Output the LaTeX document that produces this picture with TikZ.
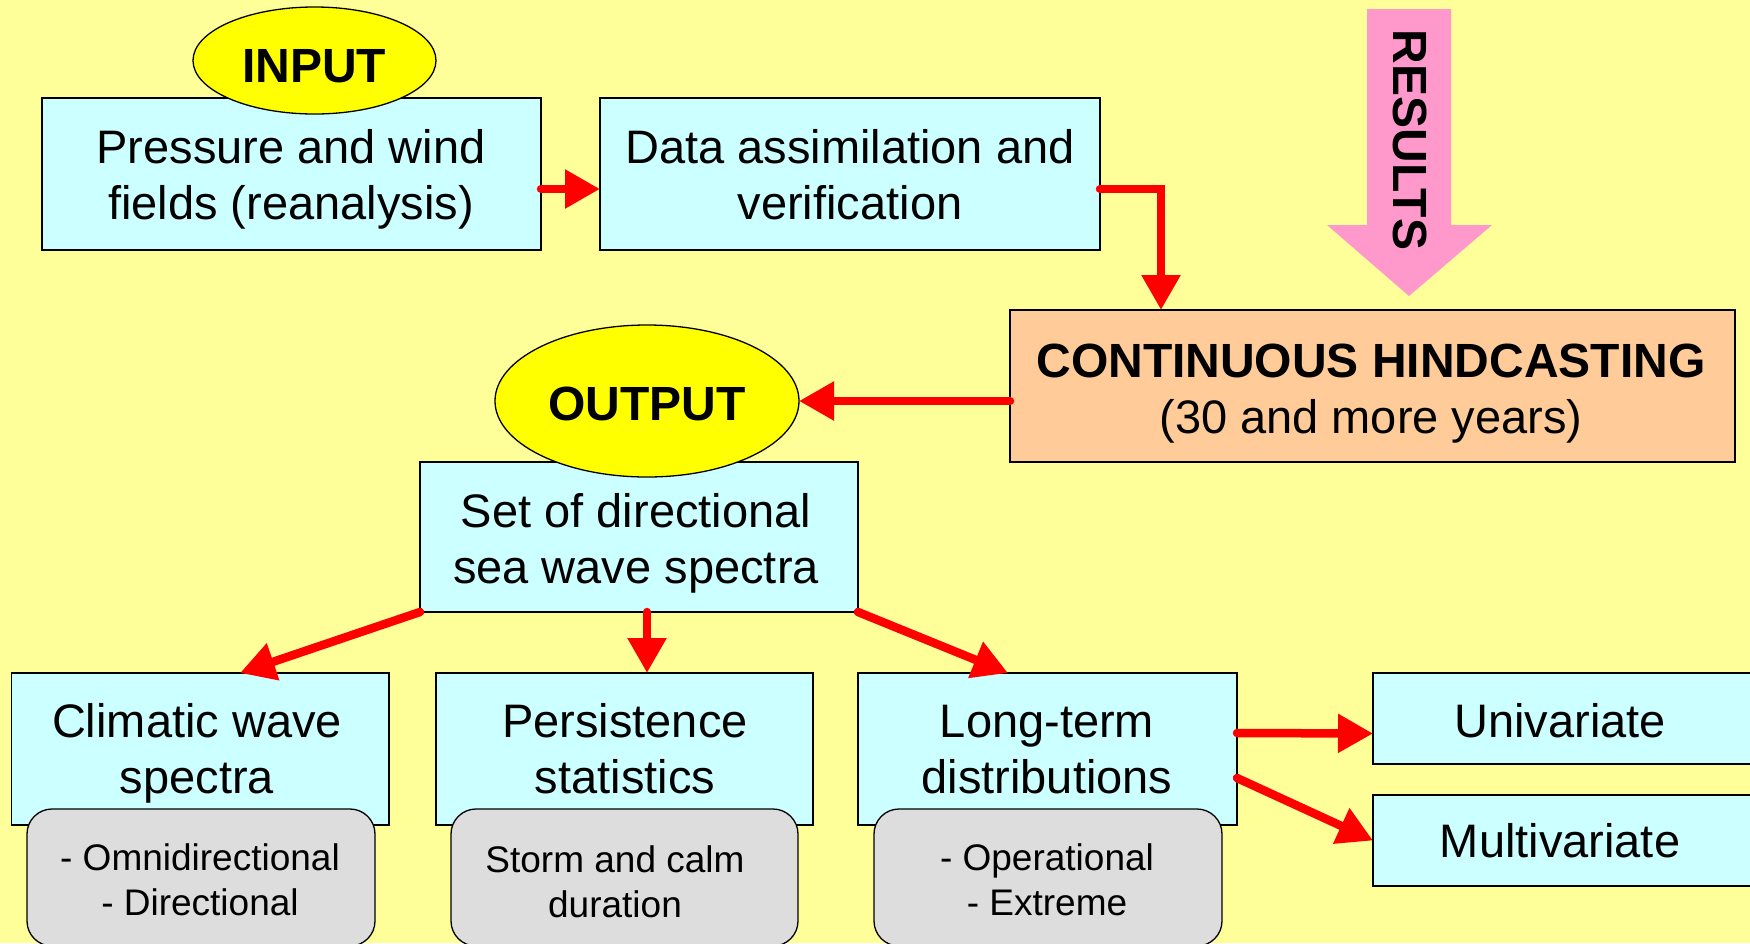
\documentclass[tikz,border=0pt]{standalone}
\usepackage{fontspec}
\setmainfont{Liberation Sans}
\usetikzlibrary{shapes.geometric,arrows.meta}
\definecolor{bgyellow}{HTML}{FFFF99}
\definecolor{boxcyan}{HTML}{CCFFFF}
\definecolor{boxorange}{HTML}{FFCC99}
\definecolor{ellyellow}{HTML}{FFFF00}
\definecolor{resultpink}{HTML}{FF99CC}
\definecolor{boxgrey}{HTML}{DDDDDD}
\newcommand{\twolines}[2]{\begin{tabular}[t]{@{}c@{}}#1\\#2\end{tabular}}
\newcommand{\bigbf}{\fontsize{48}{56.5}\selectfont\bfseries}
\begin{document}
\begin{tikzpicture}[x=1pt,y=-1pt,
  box/.style={draw=black, line width=1.3pt, rectangle, inner sep=0pt, outer sep=0pt},
  cyanbox/.style={box, fill=boxcyan},
  orangebox/.style={box, fill=boxorange},
  greybox/.style={box, fill=boxgrey, rounded corners=25pt},
  ell/.style={draw=black, line width=1.3pt, ellipse, fill=ellyellow, inner sep=0pt, outer sep=0pt},
  bigtxt/.style={font=\fontsize{47}{56.5}\selectfont, inner sep=0pt, anchor=base},
  boldtxt/.style={font=\bigbf, inner sep=0pt, anchor=base},
  smalltxt/.style={font=\fontsize{37}{45.5}\selectfont, inner sep=0pt, anchor=base},
  redarrow/.style={draw=red, line width=8.5pt, line cap=round, -{Triangle[length=35pt,width=37pt]}},
]
\useasboundingbox (0,0) rectangle (1750,943);
\fill[bgyellow] (0,0) rectangle (1750,943);
\clip (0,0) rectangle (1750,943);

% top row
\node[cyanbox, minimum width=499pt, minimum height=152pt] (b1) at (291.5,174) {};
\node[cyanbox, minimum width=500pt, minimum height=152pt] (b2) at (850,174) {};
\node[ell, minimum width=243pt, minimum height=107pt] (in) at (314.5,60.5) {};

% results arrow
\fill[resultpink] (1367,9) -- (1451,9) -- (1451,225) -- (1492,225) -- (1409,296) -- (1327,225) -- (1367,225) -- cycle;
\node[font=\bigbf, inner sep=0pt, rotate=-90] (res) at (1410,140) {RESULTS};

% hindcasting
\node[orangebox, minimum width=725pt, minimum height=152pt] (b3) at (1372.5,386) {};

% output
\node[cyanbox, minimum width=438pt, minimum height=150pt] (b4) at (639,537) {};
\node[ell, minimum width=304pt, minimum height=152pt] (out) at (647,401) {};

% bottom row
\node[cyanbox, minimum width=377.5pt, minimum height=152pt] (clim) at (200.25,749) {};
\node[cyanbox, minimum width=377pt, minimum height=152pt] (pers) at (624.5,749) {};
\node[cyanbox, minimum width=379pt, minimum height=152pt] (long) at (1047.5,749) {};
\node[greybox, minimum width=348pt, minimum height=137pt] (g1) at (201,877.5) {};
\node[greybox, minimum width=347pt, minimum height=137pt] (g2) at (624.5,877.5) {};
\node[greybox, minimum width=348pt, minimum height=137pt] (g3) at (1048,877.5) {};
\node[cyanbox, minimum width=387pt, minimum height=91pt] (uni) at (1566.5,718.5) {};
\node[cyanbox, minimum width=387pt, minimum height=91pt] (multi) at (1566.5,840.5) {};

% texts
\node[bigtxt] (t1) at (291,163) {\twolines{Pressure and wind}{fields (reanalysis)}};
\node[bigtxt] (t2) at (850,163) {\twolines{Data assimilation and}{verification}};
\node[boldtxt] (tin) at (314,82) {INPUT};
\node[bigtxt] (t3) at (1371,377) {\twolines{\bigbf CONTINUOUS HINDCASTING}{(30 and more years)}};
\node[boldtxt] (tout) at (647,420) {OUTPUT};
\node[bigtxt] (t4) at (636,527) {\twolines{Set of directional}{sea wave spectra}};
\node[bigtxt] (tclim) at (197,737) {\twolines{Climatic wave}{spectra}};
\node[bigtxt] (tpers) at (625,737) {\twolines{Persistence}{statistics}};
\node[bigtxt] (tlong) at (1047,737) {\twolines{Long-term}{distributions}};
\node[bigtxt] (tuni) at (1560,737) {Univariate};
\node[bigtxt] (tmulti) at (1560,857) {Multivariate};
\node[smalltxt] (tg1) at (200,870) {\twolines{- Omnidirectional}{- Directional}};
\node[smalltxt] (tg2) at (615,872) {\twolines{Storm and calm}{duration}};
\node[smalltxt] (tg3) at (1047,870) {\twolines{- Operational}{- Extreme}};

% connectors
\draw[redarrow] ([yshift=-15pt]b1.east) -- ([yshift=-15pt]b2.west);
\draw[redarrow] ([yshift=-15pt]b2.east) -| ([xshift=151pt]b3.north west);
\draw[redarrow] ([yshift=-15pt]b3.west) -- (out.east);
\draw[redarrow] (b4.south west) -- ([xshift=228.5pt]clim.north west);
\draw[redarrow] ([xshift=8pt]b4.south) -- ([xshift=22.5pt]pers.north);
\draw[redarrow] (b4.south east) -- ([xshift=150pt]long.north west);
\draw[redarrow] ([yshift=16pt]long.east) -- ([yshift=-15pt]uni.west);
\draw[redarrow] ([yshift=-29pt]long.east) -- (multi.west);
\end{tikzpicture}
\end{document}
